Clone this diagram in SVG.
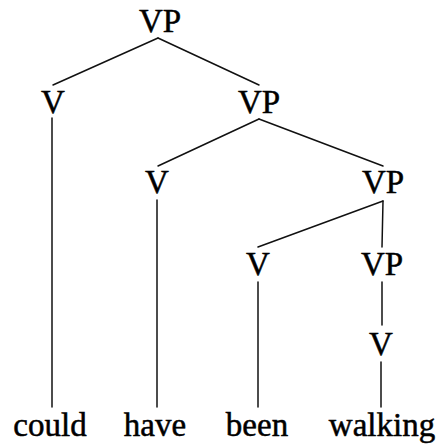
<svg xmlns="http://www.w3.org/2000/svg" width="439" height="444" viewBox="0 0 439 444">
<style>
.c line{stroke:#111;stroke-width:1.5;stroke-linecap:round}
</style>
<rect width="439" height="444" fill="#fff"/>
<g class="c" id="connectors">
<line x1="158" y1="38" x2="53" y2="85"/>
<line x1="158" y1="38" x2="259" y2="85"/>
<line x1="52" y1="118" x2="52" y2="407"/>
<line x1="259" y1="119" x2="158" y2="166"/>
<line x1="259" y1="119" x2="383" y2="166"/>
<line x1="157" y1="200" x2="157" y2="407"/>
<line x1="383" y1="201" x2="258" y2="247"/>
<line x1="383" y1="201" x2="382" y2="247"/>
<line x1="258" y1="282" x2="258" y2="407"/>
<line x1="382" y1="282" x2="382" y2="325"/>
<line x1="381" y1="362" x2="381" y2="407"/>
</g>
<g id="vp0"><text x="160" y="32" font-family="Liberation Serif" font-size="33" text-anchor="middle" fill="#000" stroke="#000" stroke-width="0.5">VP</text></g>
<g id="v1"><text x="53" y="113" font-family="Liberation Serif" font-size="33" text-anchor="middle" fill="#000" stroke="#000" stroke-width="0.5">V</text></g>
<g id="vp1"><text x="259" y="113" font-family="Liberation Serif" font-size="33" text-anchor="middle" fill="#000" stroke="#000" stroke-width="0.5">VP</text></g>
<g id="v2"><text x="157" y="193" font-family="Liberation Serif" font-size="33" text-anchor="middle" fill="#000" stroke="#000" stroke-width="0.5">V</text></g>
<g id="vp2"><text x="383" y="193" font-family="Liberation Serif" font-size="33" text-anchor="middle" fill="#000" stroke="#000" stroke-width="0.5">VP</text></g>
<g id="v3"><text x="258" y="275" font-family="Liberation Serif" font-size="33" text-anchor="middle" fill="#000" stroke="#000" stroke-width="0.5">V</text></g>
<g id="vp3"><text x="382" y="275" font-family="Liberation Serif" font-size="33" text-anchor="middle" fill="#000" stroke="#000" stroke-width="0.5">VP</text></g>
<g id="v4"><text x="381" y="355" font-family="Liberation Serif" font-size="33" text-anchor="middle" fill="#000" stroke="#000" stroke-width="0.5">V</text></g>
<g id="w1"><text x="50" y="436" font-family="Liberation Serif" font-size="33" text-anchor="middle" fill="#000" stroke="#000" stroke-width="0.5">could</text></g>
<g id="w2"><text x="155" y="436" font-family="Liberation Serif" font-size="33" text-anchor="middle" fill="#000" stroke="#000" stroke-width="0.5">have</text></g>
<g id="w3"><text x="257" y="436" font-family="Liberation Serif" font-size="33" text-anchor="middle" fill="#000" stroke="#000" stroke-width="0.5">been</text></g>
<g id="w4"><text x="382" y="436" font-family="Liberation Serif" font-size="33" text-anchor="middle" fill="#000" stroke="#000" stroke-width="0.5">walking</text></g>
</svg>
